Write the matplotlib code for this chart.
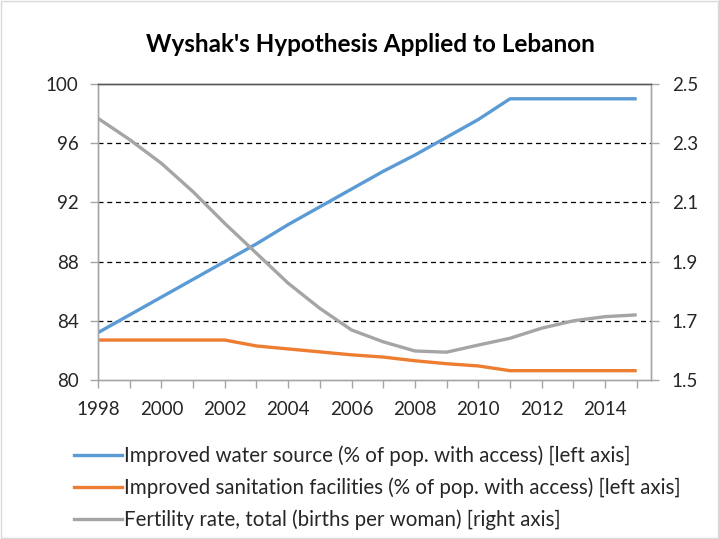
import matplotlib
matplotlib.use("Agg")
import matplotlib.pyplot as plt
from matplotlib.lines import Line2D

years = list(range(1998, 2016))
water = [83.2, 84.4, 85.6, 86.8, 88.0, 89.2, 90.5, 91.7, 92.9, 94.1, 95.2, 96.4, 97.6, 99.0, 99.0, 99.0, 99.0, 99.0]
sanitation = [82.7, 82.7, 82.7, 82.7, 82.7, 82.3, 82.1, 81.9, 81.7, 81.55, 81.3, 81.1, 80.95, 80.63, 80.63, 80.63, 80.63, 80.63]
fertility = [2.384, 2.312, 2.232, 2.136, 2.029, 1.928, 1.827, 1.742, 1.669, 1.629, 1.598, 1.594, 1.618, 1.641, 1.675, 1.700, 1.714, 1.720]

left_ticks = [80, 84, 88, 92, 96, 100]
right_ticks = [1.5, 1.7, 1.9, 2.1, 2.3, 2.5]
right_labels = ["1.5", "1.7", "1.9", "2.1", "2.3", "2.5"]
xlabels_years = list(range(1998, 2016, 2))

title = "Wyshak's Hypothesis Applied to Lebanon"
labels = ["Improved water source (% of pop. with access) [left axis]",
          "Improved sanitation facilities (% of pop. with access) [left axis]",
          "Fertility rate, total (births per woman) [right axis]"]

plt.rcParams['font.family'] = ['Lato', 'DejaVu Sans']

W, H = 719, 539
fig = plt.figure(figsize=(W/100, H/100), dpi=100)
ax = fig.add_axes([98/W, 1-380/H, (651-98)/W, (380-84)/H])
ax2 = ax.twinx()

c_blue, c_orange, c_gray = '#5B9BD5', '#ED7D31', '#A5A5A5'
lw = 2.4
l1, = ax.plot(years, water, color=c_blue, lw=lw, solid_capstyle='butt', zorder=3)
l2, = ax.plot(years, sanitation, color=c_orange, lw=lw, solid_capstyle='butt', zorder=3)
l3, = ax2.plot(years, fertility, color=c_gray, lw=lw, solid_capstyle='butt', zorder=3)

ax.set_xlim(1998, 2015.45)
ax.set_ylim(80, 100)
ax2.set_ylim(1.5, 2.5)
ax.set_yticks(left_ticks)
ax.set_yticklabels([str(t) for t in left_ticks])
ax2.set_yticks(right_ticks)
ax2.set_yticklabels(right_labels)
ax.set_xticks(years)
ax.set_xticklabels([str(y) if y in xlabels_years else '' for y in years])

for g in [84, 88, 92, 96]:
    ax.axhline(g, color='black', lw=0.9, ls=(0, (4, 3)), zorder=1)

axis_col = '#A6A6A6'
for a in (ax, ax2):
    for s in ('left', 'right', 'bottom'):
        a.spines[s].set_color(axis_col)
        a.spines[s].set_linewidth(1.0)
    a.spines['top'].set_color('#595959')
    a.spines['top'].set_linewidth(1.0)
    a.tick_params(colors=axis_col, labelcolor='#262626', labelsize=13.5, length=6, width=1.0, direction='out')
ax.tick_params(axis='x', pad=9)
ax.tick_params(axis='y', pad=8)
ax2.tick_params(axis='y', pad=9)
ax.patch.set_alpha(0)

fig.text(370/W, 1-45/H, title, ha='center', va='center', fontsize=17.5, fontweight='bold', color='black')

handles = [Line2D([], [], color=c, lw=lw) for c in (c_blue, c_orange, c_gray)]
fig.legend(handles, labels, loc='upper left', bbox_to_anchor=(66/W, 1-437/H),
           frameon=False, fontsize=14.8, handlelength=2.3, handletextpad=0.12,
           labelspacing=0.57, borderaxespad=0, labelcolor='#262626')

fig.add_artist(plt.Rectangle((0.002, 0.002), 0.996, 0.996, transform=fig.transFigure,
                             fill=False, edgecolor='#D9D9D9', lw=1))

fig.savefig('out.png', dpi=100)
